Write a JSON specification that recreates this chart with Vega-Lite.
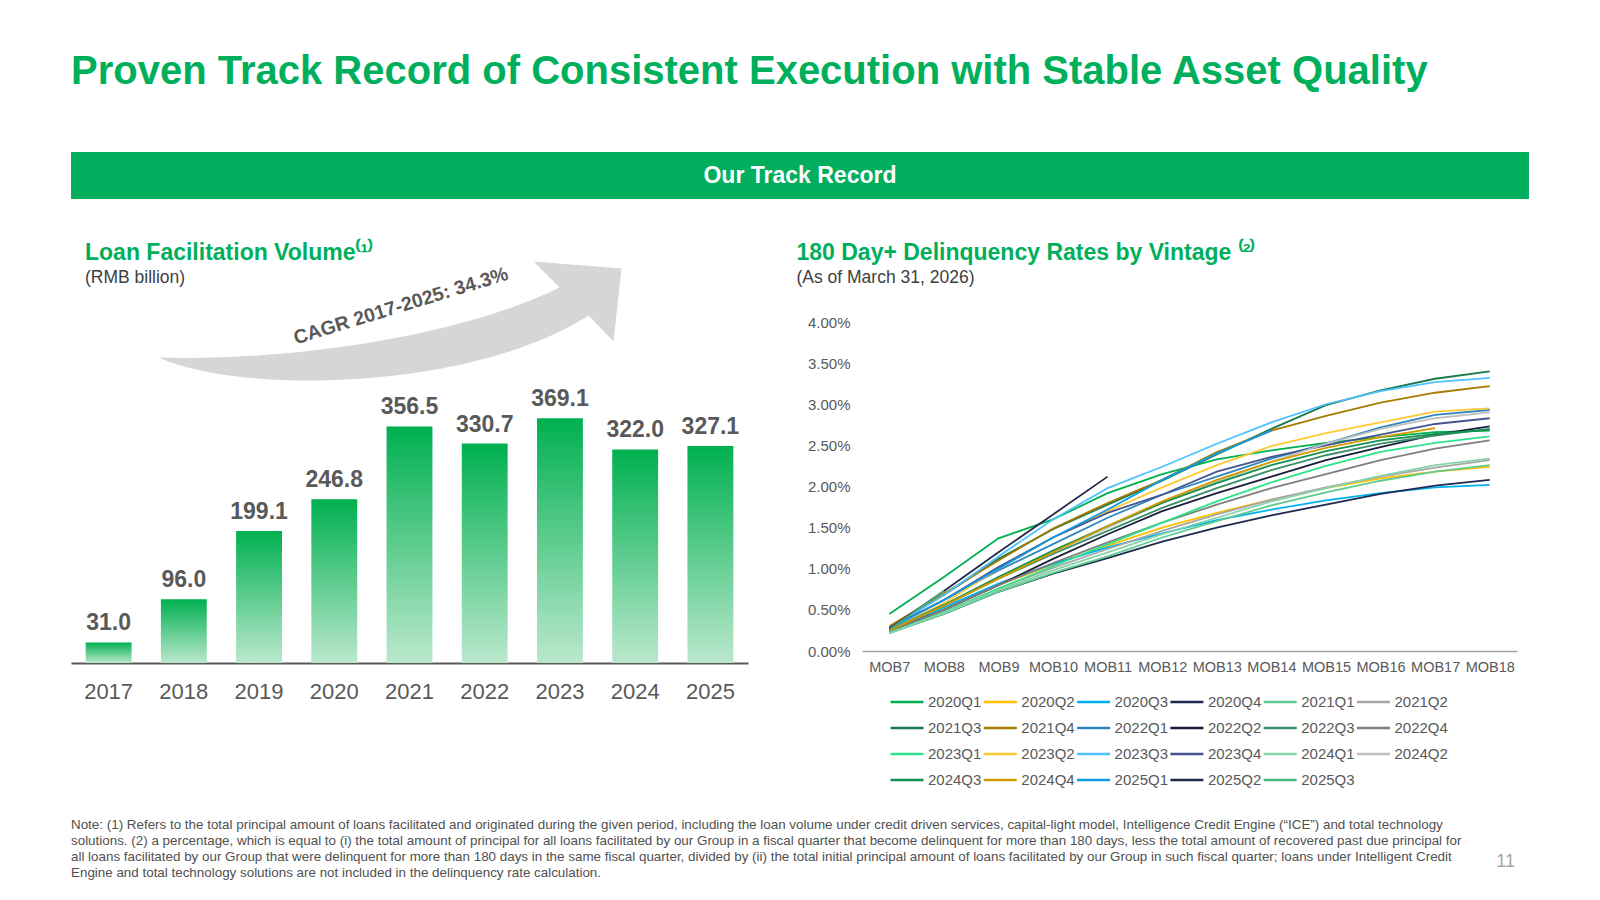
{
  "$schema": "https://vega.github.io/schema/vega-lite/v6.json",
  "background": "white",
  "padding": {"left": 71, "top": 52, "right": 20, "bottom": 6},
  "config": {
    "font": "Liberation Sans",
    "view": {"stroke": null},
    "title": {"font": "Liberation Sans", "subtitleFont": "Liberation Sans"},
    "axis": {"labelFont": "Liberation Sans"},
    "legend": {"labelFont": "Liberation Sans"},
    "text": {"font": "Liberation Sans"}
  },
  "title": {
    "text": "Proven Track Record of Consistent Execution with Stable Asset Quality",
    "anchor": "start",
    "fontSize": 40,
    "fontWeight": "bold",
    "color": "#00AF5C",
    "offset": 60
  },
  "spacing": 42,
  "vconcat": [
    {
      "width": 1458,
      "height": 47,
      "view": {"fill": "#00AE5E", "stroke": null},
      "data": {"values": [{"label": "Our Track Record"}]},
      "mark": {"type": "text", "fontSize": 23, "fontWeight": "bold", "color": "white", "align": "center", "baseline": "middle"},
      "encoding": {"text": {"field": "label", "type": "nominal"}}
    },
    {
      "spacing": 115.5,
      "vconcat": [
        {
          "spacing": 48,
          "hconcat": [
            {
              "width": 677,
              "height": 341,
              "title": {
                "text": "Loan Facilitation Volume⁽¹⁾",
                "subtitle": "(RMB billion)",
                "anchor": "start",
                "dx": 14,
                "offset": -25.3,
                "fontSize": 23,
                "fontWeight": "bold",
                "color": "#00AF5C",
                "subtitleFontSize": 17.5,
                "subtitleColor": "#404040",
                "subtitlePadding": 4
              },
              "data": {
                "values": [
                  {"year": "2017", "volume": 31.0},
                  {"year": "2018", "volume": 96.0},
                  {"year": "2019", "volume": 199.1},
                  {"year": "2020", "volume": 246.8},
                  {"year": "2021", "volume": 356.5},
                  {"year": "2022", "volume": 330.7},
                  {"year": "2023", "volume": 369.1},
                  {"year": "2024", "volume": 322.0},
                  {"year": "2025", "volume": 327.1}
                ]
              },
              "encoding": {
                "x": {
                  "field": "year",
                  "type": "nominal",
                  "scale": {"paddingInner": 0.39, "paddingOuter": 0.195},
                  "axis": {
                    "title": null,
                    "labelAngle": 0,
                    "labelFontSize": 22,
                    "labelColor": "#595959",
                    "ticks": false,
                    "domainColor": "#595959",
                    "domainWidth": 2,
                    "labelPadding": 18
                  }
                }
              },
              "layer": [
                {
                  "data": {"values": [{"year": "2021", "note": "CAGR 2017-2025: 34.3%"}]},
                  "mark": {
                    "type": "point",
                    "shape": "M-251 56C-139 60 40 40 150-14L124-40L212-33L204 40L179 14C60 90-169 93-251 56Z",
                    "size": 4,
                    "filled": true,
                    "opacity": 1,
                    "strokeWidth": 0,
                    "fill": "#D6D6D6"
                  },
                  "encoding": {
                    "y": {"datum": 545, "type": "quantitative", "axis": null}
                  }
                },
                {
                  "data": {"values": [{"year": "2021", "note": "CAGR 2017-2025: 34.3%"}]},
                  "mark": {"type": "text", "fontSize": 19.5, "fontWeight": "bold", "color": "#595959", "angle": -17, "align": "center", "baseline": "middle", "dx": -9},
                  "encoding": {
                    "y": {"datum": 542, "type": "quantitative", "axis": null},
                    "text": {"field": "note", "type": "nominal"}
                  }
                },
                {
                  "mark": {
                    "type": "bar",
                    "color": {
                      "gradient": "linear",
                      "x1": 0, "y1": 0, "x2": 0, "y2": 1,
                      "stops": [
                        {"offset": 0, "color": "#00B050"},
                        {"offset": 1, "color": "#BBE8CD"}
                      ]
                    }
                  },
                  "encoding": {
                    "y": {"field": "volume", "type": "quantitative", "scale": {"domain": [0, 514], "nice": false}, "axis": null}
                  }
                },
                {
                  "mark": {"type": "text", "fontSize": 23, "fontWeight": "bold", "color": "#595959", "baseline": "alphabetic", "dy": -12},
                  "encoding": {
                    "y": {"field": "volume", "type": "quantitative", "axis": null},
                    "text": {"field": "volume", "type": "quantitative", "format": ".1f"}
                  }
                }
              ]
            },
            {
              "width": 655,
              "height": 329,
              "title": {
                "text": "180 Day+ Delinquency Rates by Vintage ⁽²⁾",
                "subtitle": "(As of March 31, 2026)",
                "anchor": "start",
                "dx": -11,
                "offset": 28.6,
                "fontSize": 23,
                "fontWeight": "bold",
                "color": "#00AF5C",
                "subtitleFontSize": 17.5,
                "subtitleColor": "#404040",
                "subtitlePadding": 4
              },
              "data": {
                "values": [
                  {"v": "2020Q1", "mob": 7, "rate": 0.45}, {"v": "2020Q1", "mob": 8, "rate": 0.90}, {"v": "2020Q1", "mob": 9, "rate": 1.37}, {"v": "2020Q1", "mob": 10, "rate": 1.60}, {"v": "2020Q1", "mob": 11, "rate": 1.92}, {"v": "2020Q1", "mob": 12, "rate": 2.15}, {"v": "2020Q1", "mob": 13, "rate": 2.33}, {"v": "2020Q1", "mob": 14, "rate": 2.44}, {"v": "2020Q1", "mob": 15, "rate": 2.53}, {"v": "2020Q1", "mob": 16, "rate": 2.60}, {"v": "2020Q1", "mob": 17, "rate": 2.66}, {"v": "2020Q1", "mob": 18, "rate": 2.68},
                  {"v": "2020Q2", "mob": 7, "rate": 0.24}, {"v": "2020Q2", "mob": 8, "rate": 0.50}, {"v": "2020Q2", "mob": 9, "rate": 0.80}, {"v": "2020Q2", "mob": 10, "rate": 1.05}, {"v": "2020Q2", "mob": 11, "rate": 1.28}, {"v": "2020Q2", "mob": 12, "rate": 1.50}, {"v": "2020Q2", "mob": 13, "rate": 1.68}, {"v": "2020Q2", "mob": 14, "rate": 1.84}, {"v": "2020Q2", "mob": 15, "rate": 1.98}, {"v": "2020Q2", "mob": 16, "rate": 2.10}, {"v": "2020Q2", "mob": 17, "rate": 2.18}, {"v": "2020Q2", "mob": 18, "rate": 2.24},
                  {"v": "2020Q3", "mob": 7, "rate": 0.24}, {"v": "2020Q3", "mob": 8, "rate": 0.53}, {"v": "2020Q3", "mob": 9, "rate": 0.82}, {"v": "2020Q3", "mob": 10, "rate": 1.06}, {"v": "2020Q3", "mob": 11, "rate": 1.26}, {"v": "2020Q3", "mob": 12, "rate": 1.43}, {"v": "2020Q3", "mob": 13, "rate": 1.59}, {"v": "2020Q3", "mob": 14, "rate": 1.72}, {"v": "2020Q3", "mob": 15, "rate": 1.83}, {"v": "2020Q3", "mob": 16, "rate": 1.92}, {"v": "2020Q3", "mob": 17, "rate": 1.99}, {"v": "2020Q3", "mob": 18, "rate": 2.02},
                  {"v": "2020Q4", "mob": 7, "rate": 0.22}, {"v": "2020Q4", "mob": 8, "rate": 0.45}, {"v": "2020Q4", "mob": 9, "rate": 0.72}, {"v": "2020Q4", "mob": 10, "rate": 0.94}, {"v": "2020Q4", "mob": 11, "rate": 1.13}, {"v": "2020Q4", "mob": 12, "rate": 1.33}, {"v": "2020Q4", "mob": 13, "rate": 1.50}, {"v": "2020Q4", "mob": 14, "rate": 1.65}, {"v": "2020Q4", "mob": 15, "rate": 1.78}, {"v": "2020Q4", "mob": 16, "rate": 1.91}, {"v": "2020Q4", "mob": 17, "rate": 2.01}, {"v": "2020Q4", "mob": 18, "rate": 2.08},
                  {"v": "2021Q1", "mob": 7, "rate": 0.22}, {"v": "2021Q1", "mob": 8, "rate": 0.45}, {"v": "2021Q1", "mob": 9, "rate": 0.72}, {"v": "2021Q1", "mob": 10, "rate": 0.95}, {"v": "2021Q1", "mob": 11, "rate": 1.15}, {"v": "2021Q1", "mob": 12, "rate": 1.38}, {"v": "2021Q1", "mob": 13, "rate": 1.58}, {"v": "2021Q1", "mob": 14, "rate": 1.77}, {"v": "2021Q1", "mob": 15, "rate": 1.93}, {"v": "2021Q1", "mob": 16, "rate": 2.07}, {"v": "2021Q1", "mob": 17, "rate": 2.18}, {"v": "2021Q1", "mob": 18, "rate": 2.26},
                  {"v": "2021Q2", "mob": 7, "rate": 0.22}, {"v": "2021Q2", "mob": 8, "rate": 0.47}, {"v": "2021Q2", "mob": 9, "rate": 0.76}, {"v": "2021Q2", "mob": 10, "rate": 1.01}, {"v": "2021Q2", "mob": 11, "rate": 1.24}, {"v": "2021Q2", "mob": 12, "rate": 1.46}, {"v": "2021Q2", "mob": 13, "rate": 1.66}, {"v": "2021Q2", "mob": 14, "rate": 1.84}, {"v": "2021Q2", "mob": 15, "rate": 1.99}, {"v": "2021Q2", "mob": 16, "rate": 2.12}, {"v": "2021Q2", "mob": 17, "rate": 2.23}, {"v": "2021Q2", "mob": 18, "rate": 2.32},
                  {"v": "2021Q3", "mob": 7, "rate": 0.28}, {"v": "2021Q3", "mob": 8, "rate": 0.68}, {"v": "2021Q3", "mob": 9, "rate": 1.12}, {"v": "2021Q3", "mob": 10, "rate": 1.48}, {"v": "2021Q3", "mob": 11, "rate": 1.78}, {"v": "2021Q3", "mob": 12, "rate": 2.07}, {"v": "2021Q3", "mob": 13, "rate": 2.39}, {"v": "2021Q3", "mob": 14, "rate": 2.70}, {"v": "2021Q3", "mob": 15, "rate": 2.99}, {"v": "2021Q3", "mob": 16, "rate": 3.17}, {"v": "2021Q3", "mob": 17, "rate": 3.31}, {"v": "2021Q3", "mob": 18, "rate": 3.40},
                  {"v": "2021Q4", "mob": 7, "rate": 0.30}, {"v": "2021Q4", "mob": 8, "rate": 0.70}, {"v": "2021Q4", "mob": 9, "rate": 1.10}, {"v": "2021Q4", "mob": 10, "rate": 1.49}, {"v": "2021Q4", "mob": 11, "rate": 1.80}, {"v": "2021Q4", "mob": 12, "rate": 2.08}, {"v": "2021Q4", "mob": 13, "rate": 2.42}, {"v": "2021Q4", "mob": 14, "rate": 2.68}, {"v": "2021Q4", "mob": 15, "rate": 2.86}, {"v": "2021Q4", "mob": 16, "rate": 3.02}, {"v": "2021Q4", "mob": 17, "rate": 3.14}, {"v": "2021Q4", "mob": 18, "rate": 3.22},
                  {"v": "2022Q1", "mob": 7, "rate": 0.28}, {"v": "2022Q1", "mob": 8, "rate": 0.62}, {"v": "2022Q1", "mob": 9, "rate": 0.98}, {"v": "2022Q1", "mob": 10, "rate": 1.30}, {"v": "2022Q1", "mob": 11, "rate": 1.62}, {"v": "2022Q1", "mob": 12, "rate": 1.90}, {"v": "2022Q1", "mob": 13, "rate": 2.12}, {"v": "2022Q1", "mob": 14, "rate": 2.34}, {"v": "2022Q1", "mob": 15, "rate": 2.52}, {"v": "2022Q1", "mob": 16, "rate": 2.72}, {"v": "2022Q1", "mob": 17, "rate": 2.87}, {"v": "2022Q1", "mob": 18, "rate": 2.93},
                  {"v": "2022Q2", "mob": 7, "rate": 0.24}, {"v": "2022Q2", "mob": 8, "rate": 0.50}, {"v": "2022Q2", "mob": 9, "rate": 0.80}, {"v": "2022Q2", "mob": 10, "rate": 1.12}, {"v": "2022Q2", "mob": 11, "rate": 1.42}, {"v": "2022Q2", "mob": 12, "rate": 1.70}, {"v": "2022Q2", "mob": 13, "rate": 1.92}, {"v": "2022Q2", "mob": 14, "rate": 2.12}, {"v": "2022Q2", "mob": 15, "rate": 2.32}, {"v": "2022Q2", "mob": 16, "rate": 2.48}, {"v": "2022Q2", "mob": 17, "rate": 2.63}, {"v": "2022Q2", "mob": 18, "rate": 2.73},
                  {"v": "2022Q3", "mob": 7, "rate": 0.25}, {"v": "2022Q3", "mob": 8, "rate": 0.55}, {"v": "2022Q3", "mob": 9, "rate": 0.88}, {"v": "2022Q3", "mob": 10, "rate": 1.18}, {"v": "2022Q3", "mob": 11, "rate": 1.46}, {"v": "2022Q3", "mob": 12, "rate": 1.74}, {"v": "2022Q3", "mob": 13, "rate": 1.98}, {"v": "2022Q3", "mob": 14, "rate": 2.20}, {"v": "2022Q3", "mob": 15, "rate": 2.38}, {"v": "2022Q3", "mob": 16, "rate": 2.52}, {"v": "2022Q3", "mob": 17, "rate": 2.62}, {"v": "2022Q3", "mob": 18, "rate": 2.70},
                  {"v": "2022Q4", "mob": 7, "rate": 0.24}, {"v": "2022Q4", "mob": 8, "rate": 0.50}, {"v": "2022Q4", "mob": 9, "rate": 0.80}, {"v": "2022Q4", "mob": 10, "rate": 1.07}, {"v": "2022Q4", "mob": 11, "rate": 1.32}, {"v": "2022Q4", "mob": 12, "rate": 1.56}, {"v": "2022Q4", "mob": 13, "rate": 1.78}, {"v": "2022Q4", "mob": 14, "rate": 1.98}, {"v": "2022Q4", "mob": 15, "rate": 2.15}, {"v": "2022Q4", "mob": 16, "rate": 2.32}, {"v": "2022Q4", "mob": 17, "rate": 2.46}, {"v": "2022Q4", "mob": 18, "rate": 2.56},
                  {"v": "2023Q1", "mob": 7, "rate": 0.22}, {"v": "2023Q1", "mob": 8, "rate": 0.47}, {"v": "2023Q1", "mob": 9, "rate": 0.76}, {"v": "2023Q1", "mob": 10, "rate": 1.03}, {"v": "2023Q1", "mob": 11, "rate": 1.30}, {"v": "2023Q1", "mob": 12, "rate": 1.56}, {"v": "2023Q1", "mob": 13, "rate": 1.82}, {"v": "2023Q1", "mob": 14, "rate": 2.05}, {"v": "2023Q1", "mob": 15, "rate": 2.25}, {"v": "2023Q1", "mob": 16, "rate": 2.42}, {"v": "2023Q1", "mob": 17, "rate": 2.53}, {"v": "2023Q1", "mob": 18, "rate": 2.61},
                  {"v": "2023Q2", "mob": 7, "rate": 0.26}, {"v": "2023Q2", "mob": 8, "rate": 0.58}, {"v": "2023Q2", "mob": 9, "rate": 1.00}, {"v": "2023Q2", "mob": 10, "rate": 1.38}, {"v": "2023Q2", "mob": 11, "rate": 1.70}, {"v": "2023Q2", "mob": 12, "rate": 1.99}, {"v": "2023Q2", "mob": 13, "rate": 2.26}, {"v": "2023Q2", "mob": 14, "rate": 2.49}, {"v": "2023Q2", "mob": 15, "rate": 2.65}, {"v": "2023Q2", "mob": 16, "rate": 2.78}, {"v": "2023Q2", "mob": 17, "rate": 2.91}, {"v": "2023Q2", "mob": 18, "rate": 2.95},
                  {"v": "2023Q3", "mob": 7, "rate": 0.27}, {"v": "2023Q3", "mob": 8, "rate": 0.68}, {"v": "2023Q3", "mob": 9, "rate": 1.15}, {"v": "2023Q3", "mob": 10, "rate": 1.60}, {"v": "2023Q3", "mob": 11, "rate": 1.98}, {"v": "2023Q3", "mob": 12, "rate": 2.24}, {"v": "2023Q3", "mob": 13, "rate": 2.52}, {"v": "2023Q3", "mob": 14, "rate": 2.78}, {"v": "2023Q3", "mob": 15, "rate": 3.00}, {"v": "2023Q3", "mob": 16, "rate": 3.16}, {"v": "2023Q3", "mob": 17, "rate": 3.27}, {"v": "2023Q3", "mob": 18, "rate": 3.32},
                  {"v": "2023Q4", "mob": 7, "rate": 0.28}, {"v": "2023Q4", "mob": 8, "rate": 0.62}, {"v": "2023Q4", "mob": 9, "rate": 1.02}, {"v": "2023Q4", "mob": 10, "rate": 1.38}, {"v": "2023Q4", "mob": 11, "rate": 1.68}, {"v": "2023Q4", "mob": 12, "rate": 1.90}, {"v": "2023Q4", "mob": 13, "rate": 2.18}, {"v": "2023Q4", "mob": 14, "rate": 2.36}, {"v": "2023Q4", "mob": 15, "rate": 2.50}, {"v": "2023Q4", "mob": 16, "rate": 2.63}, {"v": "2023Q4", "mob": 17, "rate": 2.76}, {"v": "2023Q4", "mob": 18, "rate": 2.83},
                  {"v": "2024Q1", "mob": 7, "rate": 0.22}, {"v": "2024Q1", "mob": 8, "rate": 0.46}, {"v": "2024Q1", "mob": 9, "rate": 0.74}, {"v": "2024Q1", "mob": 10, "rate": 0.98}, {"v": "2024Q1", "mob": 11, "rate": 1.20}, {"v": "2024Q1", "mob": 12, "rate": 1.42}, {"v": "2024Q1", "mob": 13, "rate": 1.62}, {"v": "2024Q1", "mob": 14, "rate": 1.82}, {"v": "2024Q1", "mob": 15, "rate": 1.98}, {"v": "2024Q1", "mob": 16, "rate": 2.13}, {"v": "2024Q1", "mob": 17, "rate": 2.26}, {"v": "2024Q1", "mob": 18, "rate": 2.34},
                  {"v": "2024Q2", "mob": 7, "rate": 0.26}, {"v": "2024Q2", "mob": 8, "rate": 0.56}, {"v": "2024Q2", "mob": 9, "rate": 0.90}, {"v": "2024Q2", "mob": 10, "rate": 1.20}, {"v": "2024Q2", "mob": 11, "rate": 1.50}, {"v": "2024Q2", "mob": 12, "rate": 1.80}, {"v": "2024Q2", "mob": 13, "rate": 2.06}, {"v": "2024Q2", "mob": 14, "rate": 2.30}, {"v": "2024Q2", "mob": 15, "rate": 2.52}, {"v": "2024Q2", "mob": 16, "rate": 2.70}, {"v": "2024Q2", "mob": 17, "rate": 2.83}, {"v": "2024Q2", "mob": 18, "rate": 2.90},
                  {"v": "2024Q3", "mob": 7, "rate": 0.25}, {"v": "2024Q3", "mob": 8, "rate": 0.56}, {"v": "2024Q3", "mob": 9, "rate": 0.90}, {"v": "2024Q3", "mob": 10, "rate": 1.22}, {"v": "2024Q3", "mob": 11, "rate": 1.52}, {"v": "2024Q3", "mob": 12, "rate": 1.80}, {"v": "2024Q3", "mob": 13, "rate": 2.04}, {"v": "2024Q3", "mob": 14, "rate": 2.26}, {"v": "2024Q3", "mob": 15, "rate": 2.43}, {"v": "2024Q3", "mob": 16, "rate": 2.56}, {"v": "2024Q3", "mob": 17, "rate": 2.64}, {"v": "2024Q3", "mob": 18, "rate": 2.69},
                  {"v": "2024Q4", "mob": 7, "rate": 0.25}, {"v": "2024Q4", "mob": 8, "rate": 0.55}, {"v": "2024Q4", "mob": 9, "rate": 0.88}, {"v": "2024Q4", "mob": 10, "rate": 1.20}, {"v": "2024Q4", "mob": 11, "rate": 1.52}, {"v": "2024Q4", "mob": 12, "rate": 1.82}, {"v": "2024Q4", "mob": 13, "rate": 2.08}, {"v": "2024Q4", "mob": 14, "rate": 2.30}, {"v": "2024Q4", "mob": 15, "rate": 2.47}, {"v": "2024Q4", "mob": 16, "rate": 2.60}, {"v": "2024Q4", "mob": 17, "rate": 2.71},
                  {"v": "2025Q1", "mob": 7, "rate": 0.27}, {"v": "2025Q1", "mob": 8, "rate": 0.62}, {"v": "2025Q1", "mob": 9, "rate": 1.00}, {"v": "2025Q1", "mob": 10, "rate": 1.38}, {"v": "2025Q1", "mob": 11, "rate": 1.72}, {"v": "2025Q1", "mob": 12, "rate": 2.08}, {"v": "2025Q1", "mob": 13, "rate": 2.40}, {"v": "2025Q1", "mob": 14, "rate": 2.68},
                  {"v": "2025Q2", "mob": 7, "rate": 0.27}, {"v": "2025Q2", "mob": 8, "rate": 0.73}, {"v": "2025Q2", "mob": 9, "rate": 1.20}, {"v": "2025Q2", "mob": 10, "rate": 1.66}, {"v": "2025Q2", "mob": 11, "rate": 2.12},
                  {"v": "2025Q3", "mob": 7, "rate": 0.26}, {"v": "2025Q3", "mob": 8, "rate": 0.73}
                ]
              },
              "mark": {"type": "line", "strokeWidth": 1.8},
              "encoding": {
                "x": {
                  "field": "mob",
                  "type": "ordinal",
                  "scale": {"type": "point", "padding": 0.5},
                  "axis": {
                    "title": null,
                    "labelAngle": 0,
                    "labelExpr": "'MOB' + datum.label",
                    "labelFontSize": 14.5,
                    "labelColor": "#595959",
                    "ticks": false,
                    "domainColor": "#A6A6A6",
                    "domainWidth": 1.5,
                    "labelPadding": 9
                  }
                },
                "y": {
                  "field": "rate",
                  "type": "quantitative",
                  "scale": {"domain": [0, 4], "nice": false},
                  "axis": {
                    "title": null,
                    "values": [0, 0.5, 1, 1.5, 2, 2.5, 3, 3.5, 4],
                    "labelExpr": "format(datum.value, '.2f') + '%'",
                    "labelFontSize": 15,
                    "labelColor": "#595959",
                    "ticks": false,
                    "domain": false,
                    "grid": false,
                    "labelPadding": 12
                  }
                },
                "color": {
                  "field": "v",
                  "type": "nominal",
                  "scale": {
                    "domain": ["2020Q1", "2020Q2", "2020Q3", "2020Q4", "2021Q1", "2021Q2", "2021Q3", "2021Q4", "2022Q1", "2022Q2", "2022Q3", "2022Q4", "2023Q1", "2023Q2", "2023Q3", "2023Q4", "2024Q1", "2024Q2", "2024Q3", "2024Q4", "2025Q1", "2025Q2", "2025Q3"],
                    "range": ["#00B050", "#FFC000", "#00B0F0", "#1F2A50", "#5ECB8F", "#A6A6A6", "#1A7A4C", "#A67C00", "#2E86C1", "#1B1F3B", "#3A8F6A", "#7F7F7F", "#2FE38A", "#FFC933", "#4FC1FF", "#44558F", "#85D3AA", "#BFBFBF", "#13914F", "#D39B00", "#0F9BE8", "#22294A", "#47B383"]
                  },
                  "legend": {
                    "title": null,
                    "orient": "none",
                    "legendX": 818,
                    "legendY": 532,
                    "direction": "horizontal",
                    "columns": 6,
                    "symbolType": "stroke",
                    "symbolSize": 1089,
                    "symbolStrokeWidth": 2.5,
                    "labelFontSize": 15,
                    "labelColor": "#595959",
                    "labelOffset": 3,
                    "columnPadding": -3.7,
                    "rowPadding": 0,
                    "labelLimit": 120
                  }
                }
              }
            }
          ]
        },
        {
          "width": 1444,
          "height": 2,
          "title": {
            "text": "11",
            "orient": "bottom",
            "anchor": "end",
            "frame": "group",
            "offset": -26.5,
            "fontSize": 18,
            "fontWeight": "normal",
            "color": "#A6A6A6"
          },
          "data": {
            "values": [
              {
                "note": "Note: (1) Refers to the total principal amount of loans facilitated and originated during the given period, including the loan volume under credit driven services, capital-light model, Intelligence Credit Engine (“ICE”) and total technology\nsolutions. (2) a percentage, which is equal to (i) the total amount of principal for all loans facilitated by our Group in a fiscal quarter that become delinquent for more than 180 days, less the total amount of recovered past due principal for\nall loans facilitated by our Group that were delinquent for more than 180 days in the same fiscal quarter, divided by (ii) the total initial principal amount of loans facilitated by our Group in such fiscal quarter; loans under Intelligent Credit\nEngine and total technology solutions are not included in the delinquency rate calculation."
              }
            ]
          },
          "mark": {"type": "text", "align": "left", "baseline": "middle", "fontSize": 13.4, "lineHeight": 16.3, "lineBreak": "\n", "color": "#505050"},
          "encoding": {
            "x": {"datum": 0, "type": "quantitative", "scale": {"domain": [0, 1]}, "axis": null},
            "text": {"field": "note", "type": "nominal"}
          }
        }
      ]
    }
  ]
}
